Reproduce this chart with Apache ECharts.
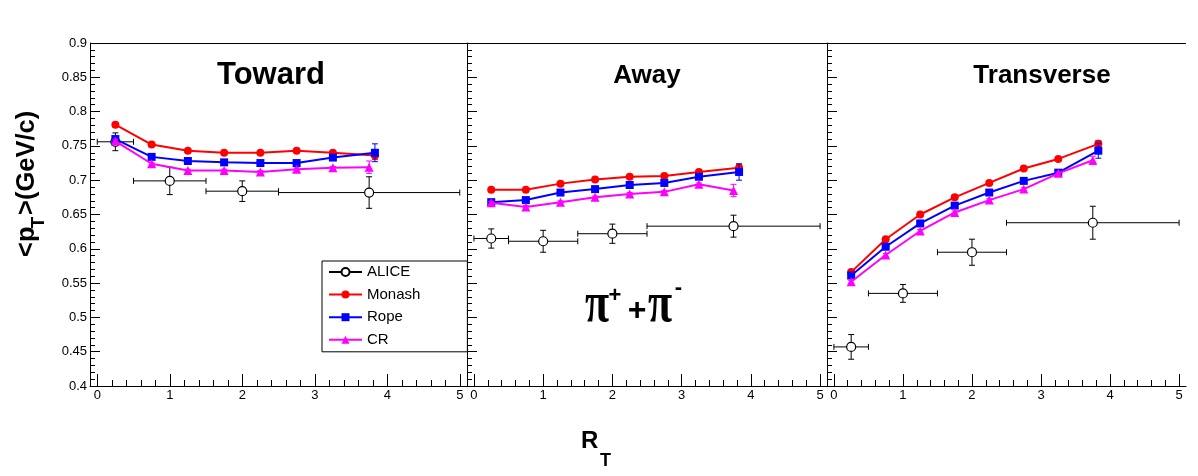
<!DOCTYPE html>
<html>
<head>
<meta charset="utf-8">
<script src="https://cdn.jsdelivr.net/npm/echarts@6/dist/echarts.min.js"></script>
<style>
  html, body { margin: 0; padding: 0; background: #fff; }
  #chart { width: 1198px; height: 476px; }
</style>
</head>
<body>
<div id="chart"></div>
<script>
// ---- data ----
var panelNames = ['Toward', 'Away', 'Transverse'];
var majorTicks = [0, 1, 2, 3, 4, 5];

var xModel = [0.25, 0.75, 1.25, 1.75, 2.25, 2.75, 3.25, 3.83];
var xCR = [0.25, 0.75, 1.25, 1.75, 2.25, 2.75, 3.25, 3.75];
var xAlice = [0.25, 1, 2, 3.75];
var xAliceLo = [0, 0.5, 1.5, 2.5];
var xAliceHi = [0.5, 1.5, 2.5, 5];

var aliceToward = [0.756, 0.699, 0.684, 0.682];
var aliceTowardErr = [0.013, 0.020, 0.015, 0.023];
var monashToward = [0.781, 0.752, 0.743, 0.740, 0.740, 0.743, 0.740, 0.736];
var monashTowardErr = [0.002, 0.002, 0.002, 0.002, 0.002, 0.002, 0.002, 0.006];
var ropeToward = [0.760, 0.734, 0.728, 0.726, 0.725, 0.725, 0.733, 0.740];
var ropeTowardErr = [0.002, 0.002, 0.002, 0.002, 0.002, 0.002, 0.002, 0.013];
var crToward = [0.757, 0.724, 0.714, 0.714, 0.712, 0.716, 0.718, 0.719];
var crTowardErr = [0.002, 0.002, 0.002, 0.002, 0.002, 0.002, 0.002, 0.009];

var aliceAway = [0.615, 0.611, 0.622, 0.633];
var aliceAwayErr = [0.014, 0.016, 0.014, 0.016];
var monashAway = [0.686, 0.686, 0.695, 0.701, 0.705, 0.706, 0.712, 0.718];
var monashAwayErr = [0.002, 0.002, 0.002, 0.002, 0.002, 0.002, 0.002, 0.005];
var ropeAway = [0.668, 0.671, 0.682, 0.687, 0.693, 0.696, 0.705, 0.712];
var ropeAwayErr = [0.002, 0.002, 0.002, 0.002, 0.002, 0.002, 0.002, 0.012];
var crAway = [0.667, 0.661, 0.668, 0.675, 0.680, 0.683, 0.694, 0.685];
var crAwayErr = [0.002, 0.002, 0.002, 0.002, 0.002, 0.002, 0.002, 0.009];

var aliceTransverse = [0.457, 0.535, 0.595, 0.638];
var aliceTransverseErr = [0.018, 0.013, 0.019, 0.024];
var monashTransverse = [0.566, 0.614, 0.650, 0.675, 0.696, 0.717, 0.731, 0.753];
var monashTransverseErr = [0.002, 0.002, 0.002, 0.002, 0.002, 0.002, 0.002, 0.005];
var ropeTransverse = [0.561, 0.603, 0.637, 0.663, 0.682, 0.699, 0.711, 0.743];
var ropeTransverseErr = [0.002, 0.002, 0.002, 0.002, 0.002, 0.002, 0.002, 0.011];
var crTransverse = [0.552, 0.591, 0.626, 0.653, 0.671, 0.687, 0.710, 0.729];
var crTransverseErr = [0.002, 0.002, 0.002, 0.002, 0.002, 0.002, 0.002, 0.006];

var alice = [aliceToward, aliceAway, aliceTransverse];
var aliceErr = [aliceTowardErr, aliceAwayErr, aliceTransverseErr];
var monash = [monashToward, monashAway, monashTransverse];
var monashErr = [monashTowardErr, monashAwayErr, monashTransverseErr];
var rope = [ropeToward, ropeAway, ropeTransverse];
var ropeErr = [ropeTowardErr, ropeAwayErr, ropeTransverseErr];
var cr = [crToward, crAway, crTransverse];
var crErr = [crTowardErr, crAwayErr, crTransverseErr];

var minorTicks = [];
for (var t = 0; t < 5; t++) {
  for (var k = 1; k < 5; k++) minorTicks.push(t + k * 0.2);
}

var FONT = 'Liberation Sans';
var myChart = echarts.init(document.getElementById('chart'));

var grids = [
  { left: 90, top: 43, width: 377, height: 343 },
  { left: 467, top: 43, width: 360, height: 343 },
  { left: 827, top: 43, width: 359, height: 343 }
];

var xAxes = [], yAxes = [], series = [];
for (var p = 0; p < 3; p++) {
  xAxes.push({
    type: 'value', gridIndex: p, min: -0.1, max: 5.1, position: 'bottom', offset: 0,
    axisLine: { show: true, onZero: false, lineStyle: { color: '#000', width: 1 } },
    axisTick: { show: true, inside: true, length: 12, customValues: majorTicks, lineStyle: { color: '#000' } },
    axisLabel: { show: true, customValues: majorTicks, margin: 3, fontSize: 13, color: '#000', fontFamily: FONT },
    splitLine: { show: false }
  });
  yAxes.push({
    type: 'value', gridIndex: p, min: 0.4, max: 0.9, interval: 0.05,
    axisLine: { show: true, onZero: false, lineStyle: { color: '#000', width: 1 } },
    axisTick: { show: true, inside: true, length: 10, lineStyle: { color: '#000' } },
    minorTick: { show: true, splitNumber: 5, length: 5, lineStyle: { color: '#000' } },
    axisLabel: { show: p === 0, margin: 3, fontSize: 13, color: '#000', fontFamily: FONT },
    splitLine: { show: false }
  });
}
// minor x ticks on a second axis per panel
for (var p = 0; p < 3; p++) {
  xAxes.push({
    type: 'value', gridIndex: p, min: -0.1, max: 5.1, position: 'bottom', offset: 0,
    axisLine: { show: false },
    axisTick: { show: true, inside: true, length: 6, customValues: minorTicks, lineStyle: { color: '#000' } },
    axisLabel: { show: false },
    splitLine: { show: false }
  });
}

function errorBars(p, rows, color, z) {
  return {
    type: 'custom', xAxisIndex: p, yAxisIndex: p, z: z, silent: true,
    data: rows,
    encode: { x: [0, 2, 3], y: [1, 4, 5] },
    renderItem: function (params, api) {
      var c = api.coord([api.value(0), api.value(1)]);
      var lo = api.coord([api.value(2), api.value(4)]);
      var hi = api.coord([api.value(3), api.value(5)]);
      var st = { stroke: color, lineWidth: 1 };
      var cap = 3;
      var kids = [
        { type: 'line', shape: { x1: c[0], y1: lo[1], x2: c[0], y2: hi[1] }, style: st },
        { type: 'line', shape: { x1: c[0] - cap, y1: lo[1], x2: c[0] + cap, y2: lo[1] }, style: st },
        { type: 'line', shape: { x1: c[0] - cap, y1: hi[1], x2: c[0] + cap, y2: hi[1] }, style: st }
      ];
      if (api.value(3) > api.value(2)) {
        kids.push({ type: 'line', shape: { x1: lo[0], y1: c[1], x2: hi[0], y2: c[1] }, style: st });
        kids.push({ type: 'line', shape: { x1: lo[0], y1: c[1] - cap, x2: lo[0], y2: c[1] + cap }, style: st });
        kids.push({ type: 'line', shape: { x1: hi[0], y1: c[1] - cap, x2: hi[0], y2: c[1] + cap }, style: st });
      }
      return { type: 'group', children: kids };
    }
  };
}

function pts(xs, ys) {
  return xs.map(function (x, i) { return [x, ys[i]]; });
}
function errRows(xs, ys, es, xlo, xhi) {
  return xs.map(function (x, i) {
    return [x, ys[i], xlo ? xlo[i] : x, xhi ? xhi[i] : x, ys[i] - es[i], ys[i] + es[i]];
  });
}

var models = [
  { name: 'Monash', color: '#ff0000', symbol: 'circle', size: 8, vals: monash, errs: monashErr, xs: xModel },
  { name: 'Rope', color: '#0000ff', symbol: 'rect', size: 8, vals: rope, errs: ropeErr, xs: xModel },
  { name: 'CR', color: '#ff00ff', symbol: 'triangle', size: 9, vals: cr, errs: crErr, xs: xCR }
];

for (var p = 0; p < 3; p++) {
  series.push(errorBars(p, errRows(xAlice, alice[p], aliceErr[p], xAliceLo, xAliceHi), '#000', 2));
  series.push({
    name: 'ALICE', type: 'line', xAxisIndex: p, yAxisIndex: p, z: 3,
    data: pts(xAlice, alice[p]),
    symbol: 'circle', symbolSize: 9,
    itemStyle: { color: '#fff', borderColor: '#000', borderWidth: 1.2 },
    lineStyle: { opacity: 0, width: 0 }
  });
  models.forEach(function (m, j) {
    series.push(errorBars(p, errRows(m.xs, m.vals[p], m.errs[p]), m.color, 4 + j * 2));
    series.push({
      name: m.name, type: 'line', xAxisIndex: p, yAxisIndex: p, z: 5 + j * 2,
      data: pts(m.xs, m.vals[p]),
      symbol: m.symbol, symbolSize: m.size,
      itemStyle: { color: m.color },
      lineStyle: { color: m.color, width: 2 }
    });
  });
}

var option = {
  animation: false,
  backgroundColor: '#fff',
  grid: grids,
  xAxis: xAxes,
  yAxis: yAxes,
  legend: {
    orient: 'vertical', left: 322, top: 261,
    padding: [3, 47, 4, 6],
    itemWidth: 33, itemHeight: 10, itemGap: 6.6,
    backgroundColor: '#fff', borderColor: '#000', borderWidth: 1, borderRadius: 0,
    selectedMode: false,
    textStyle: { fontFamily: FONT, fontSize: 15, color: '#000', lineHeight: 16 },
    data: [
      { name: 'ALICE', lineStyle: { opacity: 1, width: 2, color: '#000' } },
      'Monash', 'Rope', 'CR'
    ]
  },
  graphic: [
    { type: 'line', shape: { x1: 90, y1: 43.5, x2: 1186, y2: 43.5 }, style: { stroke: '#000', lineWidth: 1 }, silent: true },
    { type: 'text', x: 271, y: 75.3, style: { text: panelNames[0], font: 'bold 31px ' + FONT, fill: '#000', align: 'center', verticalAlign: 'middle' } },
    { type: 'text', x: 647, y: 76, style: { text: panelNames[1], font: 'bold 26px ' + FONT, fill: '#000', align: 'center', verticalAlign: 'middle' } },
    { type: 'text', x: 1042, y: 76, style: { text: panelNames[2], font: 'bold 26px ' + FONT, fill: '#000', align: 'center', verticalAlign: 'middle' } },
    // pi+ + pi-
    { type: 'text', x: 597, y: 306, scaleY: 1.3, style: { text: 'π', font: 'bold 44px "Liberation Serif"', fill: '#000', align: 'center', verticalAlign: 'middle' } },
    { type: 'text', x: 615, y: 296, style: { text: '+', font: 'bold 22px ' + FONT, fill: '#000', align: 'center', verticalAlign: 'middle' } },
    { type: 'text', x: 637, y: 311, style: { text: '+', font: 'bold 32px ' + FONT, fill: '#000', align: 'center', verticalAlign: 'middle' } },
    { type: 'text', x: 660, y: 306, scaleY: 1.3, style: { text: 'π', font: 'bold 44px "Liberation Serif"', fill: '#000', align: 'center', verticalAlign: 'middle' } },
    { type: 'text', x: 678.5, y: 288, style: { text: '-', font: 'bold 22px ' + FONT, fill: '#000', align: 'center', verticalAlign: 'middle' } },
    // x title R_T
    { type: 'text', x: 581, y: 441.7, style: { text: 'R', font: 'bold 24px ' + FONT, fill: '#000', align: 'left', verticalAlign: 'middle' } },
    { type: 'text', x: 600, y: 461.5, style: { text: 'T', font: 'bold 18px ' + FONT, fill: '#000', align: 'left', verticalAlign: 'middle' } },
    // y title <p_T>(GeV/c)
    {
      type: 'group', x: 36, y: 257, rotation: Math.PI / 2,
      children: [
        { type: 'text', x: 0, y: -9, style: { text: '<p', font: 'bold 25.5px ' + FONT, fill: '#000', align: 'left', verticalAlign: 'middle' } },
        { type: 'text', x: 28.5, y: 2.5, style: { text: 'T', font: 'bold 19px ' + FONT, fill: '#000', align: 'left', verticalAlign: 'middle' } },
        { type: 'text', x: 42, y: -9, style: { text: '>(GeV/c)', font: 'bold 25.5px ' + FONT, fill: '#000', align: 'left', verticalAlign: 'middle' } }
      ]
    }
  ],
  series: series
};

option && myChart.setOption(option);
</script>
</body>
</html>
